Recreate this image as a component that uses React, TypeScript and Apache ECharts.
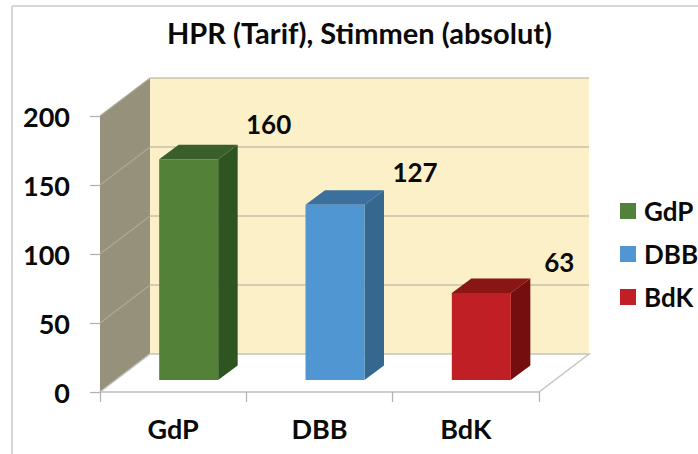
import React, { useEffect, useRef } from "react";
import * as echarts from "echarts";

const categories = ["GdP", "DBB", "BdK"];
const values = [160, 127, 63];
const yTicks = [0, 50, 100, 150, 200];
const frontColors = ["#538138", "#4f96d2", "#c01f25"];
const topColors = ["#3a5f2a", "#3a6f9e", "#8a1515"];
const sideColors = ["#2e5421", "#35678f", "#750e0e"];
const labelLift = [21, 18, 17];
const labelShift = [31, 31, 29];

const FONT = "Lato";
const DX = 50;
const DY = -38;
const BAR_DX = 15.5;
const BAR_DY = -12;
const BAR_HALF = 29.5;
const BAR_DEPTH_X = 19.5;
const BAR_DEPTH_Y = -14.5;

export default function App() {
  const ref = useRef<HTMLDivElement>(null);
  useEffect(() => {
    const chart = echarts.init(ref.current!, undefined, { renderer: "svg" });

    const wallSeries: any = {
      type: "custom",
      name: "walls",
      coordinateSystem: "cartesian2d",
      silent: true,
      z: 1,
      data: [[0, 0]],
      renderItem: (params: any) => {
        const c = params.coordSys;
        const l = c.x, r = c.x + c.width, t = c.y, b = c.y + c.height;
        return {
          type: "group",
          children: [
            {
              type: "polygon",
              shape: { points: [[l + DX, t + DY], [r + DX, t + DY], [r + DX, b + DY], [l + DX, b + DY]] },
              style: { fill: "#fbf0c8" },
            },
            {
              type: "polygon",
              shape: { points: [[l, t], [l + DX, t + DY], [l + DX, b + DY], [l, b]] },
              style: { fill: "#96917a" },
            },
            {
              type: "polyline",
              shape: { points: [[l, b], [l + DX, b + DY], [r + DX, b + DY], [r, b]] },
              style: { stroke: "#c4c4c0", lineWidth: 1.5, fill: "none" },
            },
          ],
        };
      },
    };

    const gridSeries: any = {
      type: "custom",
      name: "gridlines",
      coordinateSystem: "cartesian2d",
      silent: true,
      z: 2,
      data: yTicks.slice(1).map((v) => [0, v]),
      renderItem: (params: any, api: any) => {
        const c = params.coordSys;
        const y = api.coord([0, api.value(1)])[1];
        const l = c.x, r = c.x + c.width;
        return {
          type: "polyline",
          shape: { points: [[l, y], [l + DX, y + DY], [r + DX, y + DY]] },
          style: { stroke: "#adaa98", lineWidth: 1.2, fill: "none" },
        };
      },
    };

    const barSeries: any[] = categories.map((name, i) => ({
      type: "custom",
      name,
      coordinateSystem: "cartesian2d",
      z: 3,
      itemStyle: { color: frontColors[i] },
      data: [[i, values[i]]],
      renderItem: (_: any, api: any) => {
        const top = api.coord([api.value(0), api.value(1)]);
        const base = api.coord([api.value(0), 0]);
        const x0 = base[0] + BAR_DX - BAR_HALF;
        const x1 = base[0] + BAR_DX + BAR_HALF;
        const y0 = top[1] + BAR_DY;
        const y1 = base[1] + BAR_DY;
        return {
          type: "group",
          children: [
            {
              type: "polygon",
              shape: { points: [[x1, y0], [x1 + BAR_DEPTH_X, y0 + BAR_DEPTH_Y], [x1 + BAR_DEPTH_X, y1 + BAR_DEPTH_Y], [x1, y1]] },
              style: { fill: sideColors[i] },
            },
            {
              type: "polygon",
              shape: { points: [[x0, y0], [x0 + BAR_DEPTH_X, y0 + BAR_DEPTH_Y], [x1 + BAR_DEPTH_X, y0 + BAR_DEPTH_Y], [x1, y0]] },
              style: { fill: topColors[i] },
            },
            {
              type: "rect",
              shape: { x: x0, y: y0, width: x1 - x0, height: y1 - y0 },
              style: { fill: frontColors[i] },
            },
            {
              type: "text",
              x: x1 + BAR_DEPTH_X + labelShift[i],
              y: y0 + BAR_DEPTH_Y - labelLift[i],
              style: {
                text: String(values[i]),
                fill: "#0a0a0a",
                font: `bold 26px ${FONT}`,
                align: "center",
                verticalAlign: "middle",
              },
            },
          ],
        };
      },
    }));

    chart.setOption({
      animation: false,
      backgroundColor: "#fff",
      title: {
        text: "HPR (Tarif), Stimmen (absolut)",
        left: 354.5,
        top: 13,
        textAlign: "center",
        textStyle: { fontFamily: FONT, fontSize: 29, fontWeight: "bold", color: "#0a0a0a" },
      },
      legend: {
        data: categories,
        orient: "vertical",
        left: 620,
        top: 198,
        itemWidth: 16,
        itemHeight: 16,
        itemGap: 17,
        icon: "rect",
        textStyle: { fontFamily: FONT, fontSize: 26, fontWeight: "bold", color: "#0a0a0a", padding: [0, 0, 0, 3] },
        padding: 0,
      },
      grid: { left: 100, right: 159, top: 116, bottom: 62, containLabel: false },
      xAxis: {
        type: "category",
        data: categories,
        axisLine: { lineStyle: { color: "#bdbdbd", width: 1.5 } },
        axisTick: { show: true, length: 10, lineStyle: { color: "#b0b0b0", width: 1.2 } },
        axisLabel: { fontFamily: FONT, fontSize: 27, fontWeight: "bold", color: "#0a0a0a", margin: 23 },
        z: 5,
      },
      yAxis: {
        type: "value",
        min: 0,
        max: 200,
        interval: 50,
        axisLine: { show: false },
        axisTick: { show: true, length: 10, lineStyle: { color: "#b0b0b0", width: 1.2 } },
        splitLine: { show: false },
        axisLabel: { fontFamily: FONT, fontSize: 27, fontWeight: "bold", color: "#0a0a0a", margin: 30 },
      },
      graphic: [
        { type: "line", shape: { x1: 12, y1: 6, x2: 698, y2: 6 }, style: { stroke: "#c8c8c8", lineWidth: 1.5 } },
        { type: "line", shape: { x1: 12, y1: 6, x2: 12, y2: 454 }, style: { stroke: "#c8c8c8", lineWidth: 1.5 } },
      ],
      series: [wallSeries, gridSeries, ...barSeries],
    });
    return () => chart.dispose();
  }, []);
  return <div ref={ref} style={{ position: "fixed", left: 0, top: 0, width: 698, height: 454 }} />;
}
